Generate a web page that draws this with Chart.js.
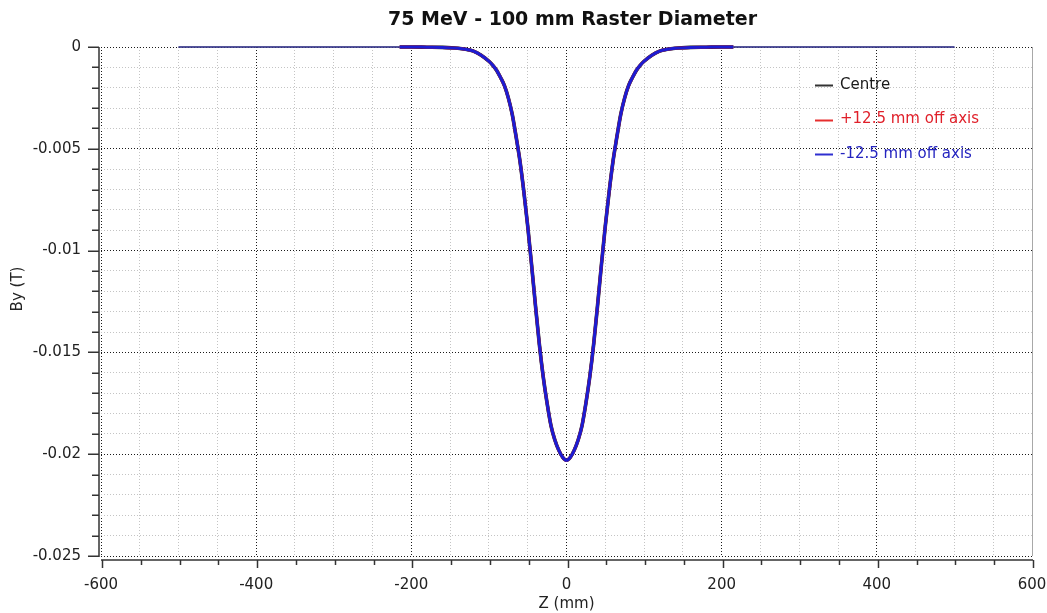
<!DOCTYPE html>
<html>
<head>
<meta charset="utf-8">
<title>75 MeV - 100 mm Raster Diameter</title>
<script src="https://cdn.jsdelivr.net/npm/chart.js@4.4.1/dist/chart.umd.min.js"></script>
<style>
  html, body { margin: 0; padding: 0; background: #ffffff; }
  canvas { display: block; }
</style>
</head>
<body>
<canvas id="chart" width="1047" height="613"></canvas>
<script>
// Longitudinal position along the magnet (mm)
const zPositions = [
  -500, -400, -300, -215, -200, -180, -160, -140, -130, -120, -110, -100,
  -95, -90, -85, -80, -75, -70, -65, -60, -55, -50, -45, -40, -35, -30,
  -25, -20, -15, -10, -5, 0, 5, 10, 15, 20, 25, 30, 35, 40, 45, 50, 55,
  60, 65, 70, 75, 80, 85, 90, 95, 100, 110, 120, 130, 140, 160, 180, 200,
  215, 300, 400, 500
];

// Vertical field By (T) on the beam axis
const byCentre = [
  0, 0, 0, 0, 0, -0.00001, -0.00002, -0.00006, -0.00011, -0.0002, -0.0004, -0.0007,
  -0.0009, -0.00115, -0.0015, -0.0019, -0.0025, -0.0033, -0.0044, -0.0056, -0.0071, -0.0088, -0.0107, -0.0127, -0.0146, -0.0162,
  -0.0175, -0.0186, -0.0193, -0.0198, -0.02015, -0.0203, -0.02015, -0.0198, -0.0193, -0.0186, -0.0175, -0.0162, -0.0146, -0.0127, -0.0107, -0.0088, -0.0071,
  -0.0056, -0.0044, -0.0033, -0.0025, -0.0019, -0.0015, -0.00115, -0.0009, -0.0007, -0.0004, -0.0002, -0.00011, -0.00006, -0.00002, -0.00001, 0,
  0, 0, 0, 0
];

// By (T) 12.5 mm off axis on the positive side
const byPlusOffset = [
  0, 0, 0, 0, 0, -0.00001, -0.00002, -0.00006, -0.00011, -0.0002, -0.0004, -0.0007,
  -0.0009, -0.00115, -0.0015, -0.0019, -0.0025, -0.0033, -0.0044, -0.0056, -0.0071, -0.0088, -0.0107, -0.0127, -0.0146, -0.0162,
  -0.0175, -0.0186, -0.0193, -0.0198, -0.02015, -0.0203, -0.02015, -0.0198, -0.0193, -0.0186, -0.0175, -0.0162, -0.0146, -0.0127, -0.0107, -0.0088, -0.0071,
  -0.0056, -0.0044, -0.0033, -0.0025, -0.0019, -0.0015, -0.00115, -0.0009, -0.0007, -0.0004, -0.0002, -0.00011, -0.00006, -0.00002, -0.00001, 0,
  0, 0, 0, 0
];

// By (T) 12.5 mm off axis on the negative side
const byMinusOffset = [
  0, 0, 0, 0, 0, -0.00001, -0.00002, -0.00006, -0.00011, -0.0002, -0.0004, -0.0007,
  -0.0009, -0.00115, -0.0015, -0.0019, -0.0025, -0.0033, -0.0044, -0.0056, -0.0071, -0.0088, -0.0107, -0.0127, -0.0146, -0.0162,
  -0.0175, -0.0186, -0.0193, -0.0198, -0.02015, -0.0203, -0.02015, -0.0198, -0.0193, -0.0186, -0.0175, -0.0162, -0.0146, -0.0127, -0.0107, -0.0088, -0.0071,
  -0.0056, -0.0044, -0.0033, -0.0025, -0.0019, -0.0015, -0.00115, -0.0009, -0.0007, -0.0004, -0.0002, -0.00011, -0.00006, -0.00002, -0.00001, 0,
  0, 0, 0, 0
];

const seriesNames = ['Centre', '+12.5 mm off axis', '-12.5 mm off axis'];

// Labelled axis ticks
const xTickValues = [-600, -400, -200, 0, 200, 400, 600];
const xTickLabels = ['-600', '-400', '-200', '0', '200', '400', '600'];
const yTickValues = [0, -0.005, -0.01, -0.015, -0.02, -0.025];
const yTickLabels = ['0', '-0.005', '-0.01', '-0.015', '-0.02', '-0.025'];

const X_MINOR_STEP = 50;
const Y_MINOR_STEP = 0.001;

const FONT = "'DejaVu Sans', Verdana, sans-serif";
Chart.defaults.font.family = FONT;
Chart.defaults.color = '#222';

function toPoints(values) {
  return zPositions.map((z, i) => ({ x: z, y: values[i] }));
}

function near(a, b, eps) { return Math.abs(a - b) < eps; }

function minorTicks(min, max, step) {
  const out = [];
  const n = Math.round((max - min) / step);
  for (let i = 0; i <= n; i++) out.push({ value: +(min + i * step).toFixed(6) });
  return out;
}

function isMajorX(v) { return xTickValues.some(t => near(t, v, 1e-6)); }
function isMajorY(v) { return yTickValues.some(t => near(t, v, 1e-9)); }

// The flat tails far from the magnet are drawn as a hairline
const flatTail = ctx => Math.abs(ctx.p0.parsed.x) >= 215 && Math.abs(ctx.p1.parsed.x) >= 215;

function seriesDataset(label, values, color, width, order) {
  return {
    label,
    data: toPoints(values),
    borderColor: color,
    backgroundColor: color,
    borderWidth: width,
    pointRadius: 0,
    cubicInterpolationMode: 'monotone',
    tension: 0.4,
    clip: false,
    order,
    segment: {
      borderWidth: ctx => flatTail(ctx) ? 1 : undefined,
      borderColor: ctx => flatTail(ctx) ? '#3c3c8c' : undefined
    }
  };
}

// Title, axis titles, legend, axis lines and tick marks
const decorations = {
  id: 'decorations',
  afterDraw(chart) {
    const { ctx, chartArea } = chart;
    const { left, right, top, bottom } = chartArea;
    const xs = chart.scales.x, ys = chart.scales.y;
    ctx.save();

    // plot frame right edge
    ctx.strokeStyle = '#a8a8a8';
    ctx.lineWidth = 1;
    ctx.beginPath();
    ctx.moveTo(right + 0.5, top);
    ctx.lineTo(right + 0.5, bottom);
    ctx.stroke();

    // axis lines, set slightly apart from the plot area
    ctx.strokeStyle = '#333';
    ctx.lineWidth = 1.5;
    const yAxisX = left - 2;
    const xAxisY = bottom + 4;
    ctx.beginPath();
    ctx.moveTo(yAxisX, top);
    ctx.lineTo(yAxisX, bottom + 1);
    ctx.moveTo(left, xAxisY);
    ctx.lineTo(right + 1, xAxisY);
    ctx.stroke();

    // y tick marks
    ctx.lineWidth = 1.5;
    ys.ticks.forEach(t => {
      const py = Math.round(ys.getPixelForValue(t.value)) + 0.25;
      const len = isMajorY(t.value) ? 11 : 7;
      ctx.beginPath();
      ctx.moveTo(yAxisX - len, py);
      ctx.lineTo(yAxisX, py);
      ctx.stroke();
    });
    // x tick marks
    xs.ticks.forEach(t => {
      const px = Math.round(xs.getPixelForValue(t.value)) + 1.5;
      const len = isMajorX(t.value) ? 8 : 5;
      ctx.beginPath();
      ctx.moveTo(px, xAxisY);
      ctx.lineTo(px, xAxisY + len);
      ctx.stroke();
    });

    // chart title
    ctx.fillStyle = '#111';
    ctx.textAlign = 'center';
    ctx.textBaseline = 'middle';
    ctx.font = `bold 19px ${FONT}`;
    ctx.fillText('75 MeV - 100 mm Raster Diameter', (left + right) / 2 + 6, 20);

    // axis titles
    ctx.font = `15px ${FONT}`;
    ctx.fillStyle = '#222';
    ctx.fillText('Z (mm)', (left + right) / 2, 604);
    ctx.save();
    ctx.translate(18, 289);
    ctx.rotate(-Math.PI / 2);
    ctx.fillText('By (T)', 0, 0);
    ctx.restore();

    // legend
    const textColors = ['#1a1a1a', '#e0202a', '#2424c0'];
    const lineColors = ['#333333', '#e62e2e', '#2f2fd0'];
    ctx.textAlign = 'left';
    ctx.font = `15px ${FONT}`;
    chart.data.datasets.forEach((ds, i) => {
      const y = 85 + i * 34.5;
      ctx.strokeStyle = lineColors[i];
      ctx.lineWidth = 2;
      ctx.beginPath();
      ctx.moveTo(815, Math.round(y) + 0.5);
      ctx.lineTo(833, Math.round(y) + 0.5);
      ctx.stroke();
      ctx.fillStyle = textColors[i];
      ctx.fillText(ds.label, 840, y);
    });

    ctx.restore();
  }
};

new Chart(document.getElementById('chart'), {
  type: 'line',
  data: {
    datasets: [
      seriesDataset(seriesNames[0], byCentre, '#111111', 3.6, 2),
      seriesDataset(seriesNames[1], byPlusOffset, '#e62020', 3, 1),
      seriesDataset(seriesNames[2], byMinusOffset, '#1c1cd2', 3, 0)
    ]
  },
  options: {
    responsive: false,
    animation: false,
    devicePixelRatio: 1,
    layout: { padding: { top: 47, right: 0, left: 0, bottom: 0 } },
    plugins: {
      legend: { display: false },
      title: { display: false },
      tooltip: { enabled: false }
    },
    scales: {
      x: {
        type: 'linear',
        min: -600,
        max: 600,
        afterBuildTicks: scale => { scale.ticks = minorTicks(-600, 600, X_MINOR_STEP); },
        afterFit: scale => { scale.height = 57; scale.paddingRight = 15; },
        ticks: {
          autoSkip: false,
          maxRotation: 0,
          padding: 20,
          font: { size: 15 },
          color: '#222',
          callback: value => {
            const i = xTickValues.findIndex(t => near(t, value, 1e-6));
            return i >= 0 ? xTickLabels[i] : '';
          }
        },
        grid: {
          drawTicks: false,
          lineWidth: 1,
          color: ctx => (ctx.tick && isMajorX(ctx.tick.value)) ? '#1a1a1a' : '#c4c4c4'
        },
        border: { display: false, dash: [1, 2] }
      },
      y: {
        type: 'linear',
        min: -0.025,
        max: 0,
        afterBuildTicks: scale => { scale.ticks = minorTicks(-0.025, 0, Y_MINOR_STEP); },
        afterFit: scale => { scale.width = 101; },
        ticks: {
          autoSkip: false,
          padding: 20,
          font: { size: 15 },
          color: '#222',
          callback: value => {
            const i = yTickValues.findIndex(t => near(t, value, 1e-9));
            return i >= 0 ? yTickLabels[i] : '';
          }
        },
        grid: {
          drawTicks: false,
          lineWidth: 1,
          color: ctx => (ctx.tick && isMajorY(ctx.tick.value)) ? '#1a1a1a' : '#c4c4c4'
        },
        border: { display: false, dash: [1, 2] }
      }
    }
  },
  plugins: [decorations]
});
</script>
</body>
</html>
